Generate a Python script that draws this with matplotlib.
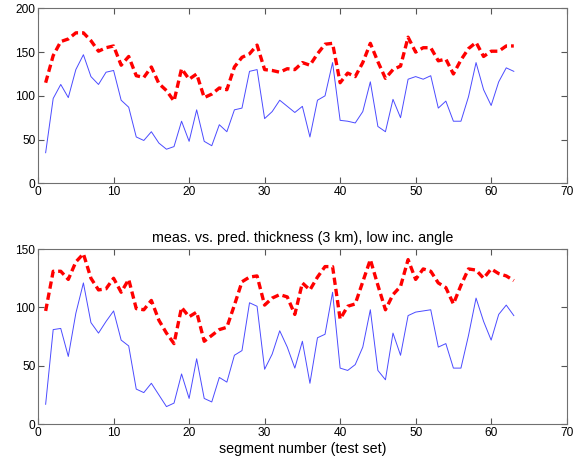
import matplotlib
matplotlib.use('Agg')
import matplotlib.pyplot as plt

plt.rcParams['font.family'] = ['Liberation Sans', 'DejaVu Sans']

segments = list(range(1, 64))

# top panel: measured (blue) vs predicted (red dashed)
top_meas = [35, 97, 113, 98, 130, 147, 122, 113, 127, 129,
            95, 87, 53, 49, 59, 46, 39, 42, 71, 48,
            84, 48, 43, 67, 59, 84, 86, 128, 130, 74,
            82, 95, 88, 81, 88, 53, 95, 100, 138, 72,
            71, 69, 82, 116, 65, 59, 96, 75, 119, 122,
            119, 123, 86, 94, 71, 71, 99, 138, 107, 89,
            116, 132, 128]
top_pred = [115, 146, 162, 165, 172, 172, 163, 151, 155, 157,
            135, 145, 123, 121, 133, 114, 106, 94, 131, 119,
            125, 98, 102, 109, 107, 133, 144, 148, 158, 130,
            129, 127, 131, 130, 138, 135, 148, 159, 160, 115,
            126, 122, 138, 160, 139, 120, 130, 134, 167, 150,
            155, 155, 140, 142, 125, 141, 154, 161, 145, 151,
            151, 157, 157]

# bottom panel: low incidence angle
bot_meas = [17, 81, 82, 58, 95, 121, 87, 78, 88, 97,
            72, 67, 30, 27, 35, 25, 15, 18, 43, 22,
            56, 22, 19, 40, 36, 59, 63, 104, 101, 47,
            60, 80, 66, 48, 71, 35, 74, 77, 113, 48,
            46, 51, 66, 98, 46, 38, 78, 59, 93, 96,
            97, 98, 66, 69, 48, 48, 76, 108, 88, 72,
            94, 102, 93]
bot_pred = [97, 131, 131, 124, 139, 146, 125, 115, 116, 125,
            113, 124, 99, 98, 106, 89, 78, 69, 100, 92,
            96, 71, 76, 81, 83, 102, 122, 126, 127, 102,
            108, 111, 109, 94, 121, 115, 126, 135, 135, 90,
            101, 103, 122, 141, 119, 98, 111, 118, 141, 124,
            133, 131, 121, 117, 103, 119, 133, 132, 125, 133,
            129, 127, 123]

fig = plt.figure(figsize=(5.86, 4.63), dpi=100)
ax1 = fig.add_axes([0.065, 0.604, 0.902, 0.378])
ax2 = fig.add_axes([0.065, 0.084, 0.902, 0.378])

for ax, meas, pred, ymax in [(ax1, top_meas, top_pred, 200), (ax2, bot_meas, bot_pred, 150)]:
    ax.plot(segments, meas, color='#4b4bff', linewidth=0.7)
    ax.plot(segments, pred, color='red', linestyle='--', linewidth=2.4, dashes=(2.2, 1.2))
    ax.set_xlim(0, 70)
    ax.set_ylim(0, ymax)
    ax.set_xticks(range(0, 71, 10))
    ax.set_yticks(range(0, ymax + 1, 50))
    ax.tick_params(direction='in', top=True, right=True, labelsize=8.6, length=4,
                   color='#555555', pad=2)
    for s in ax.spines.values():
        s.set_color('#707070')
        s.set_linewidth(0.8)

ax2.set_title('meas. vs. pred. thickness (3 km), low inc. angle', fontsize=10.3, pad=5)
ax2.set_xlabel('segment number (test set)', fontsize=10.3, labelpad=2)

plt.savefig('out.png', dpi=100)
